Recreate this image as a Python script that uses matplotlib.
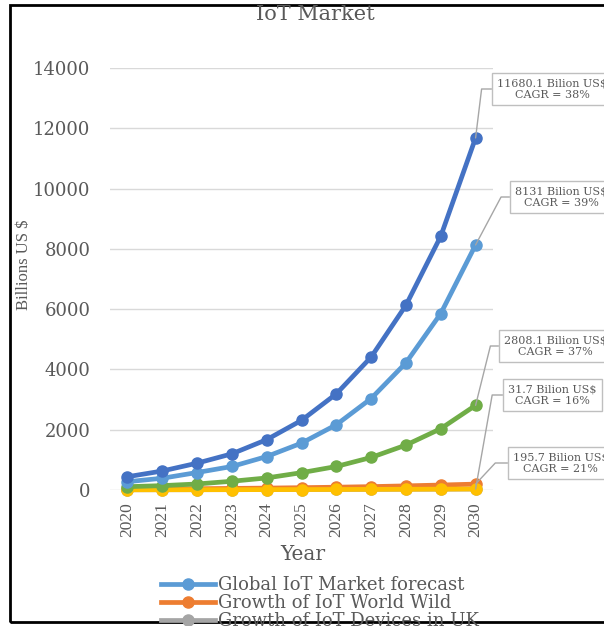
import matplotlib.pyplot as plt
from matplotlib.patches import Rectangle

# values (billions US $)
years = [2020, 2021, 2022, 2023, 2024, 2025, 2026, 2027, 2028, 2029, 2030]
iot_total = [440, 630, 890, 1200, 1670, 2310, 3190, 4410, 6130, 8420, 11680.1]
global_forecast = [275, 390, 580, 780, 1110, 1555, 2165, 3035, 4220, 5855, 8131]
iot_segment = [110, 145, 200, 290, 400, 575, 780, 1080, 1490, 2035, 2808.1]
world_wild = [30, 36, 43, 53, 63, 77, 93, 112, 137, 165, 195.7]
uk_devices = [7, 8, 10, 11, 13, 15, 17, 20, 24, 27, 31.7]
other_small = [6, 8, 9, 11, 13, 15, 18, 21, 24, 28, 33]

callouts = [
    ("11680.1 Bilion US$\nCAGR = 38%", 11680.1, (497, 89), 83),
    ("8131 Bilion US$\nCAGR = 39%", 8131, (515, 197), 62),
    ("2808.1 Bilion US$\nCAGR = 37%", 2808.1, (504, 346), 76),
    ("31.7 Bilion US$\nCAGR = 16%", 31.7, (508, 395), 80),
    ("195.7 Bilion US$\nCAGR = 21%", 195.7, (513, 463), 47),
]

W, H = 604, 626
fig = plt.figure(figsize=(W / 100, H / 100), dpi=100)
ax = fig.add_axes([110 / W, 1 - 490 / H, 383 / W, 422 / H])

txt = "#595959"
grid = "#d9d9d9"
line_kw = dict(lw=3.4, marker="o", ms=8, clip_on=False)

ax.plot(years, uk_devices, color="#A5A5A5", label="Growth of IoT Devices in UK", **line_kw)
ax.plot(years, world_wild, color="#ED7D31", label="Growth of IoT World Wild", **line_kw)
ax.plot(years, other_small, color="#FFC000", **line_kw)
ax.plot(years, iot_segment, color="#70AD47", **line_kw)
ax.plot(years, global_forecast, color="#5B9BD5", label="Global IoT Market forecast", **line_kw)
ax.plot(years, iot_total, color="#4472C4", **line_kw)

ax.set_xlim(2019.5, 2030.5)
ax.set_ylim(0, 14000)
ax.set_yticks(range(0, 14001, 2000))
ax.set_xticks(years)
ax.set_xticklabels([str(y) for y in years], rotation=90,
                   family="Liberation Serif", fontsize=12.5, color=txt)
for t in ax.get_yticklabels():
    t.set_family("DejaVu Serif")
    t.set_fontsize(13)
    t.set_color(txt)
ax.tick_params(length=0)
ax.tick_params(axis="y", pad=14)
ax.tick_params(axis="x", pad=9)
ax.grid(axis="y", color=grid, lw=1)
ax.set_axisbelow(True)
for s in ax.spines.values():
    s.set_visible(False)

for label, val, (px, py), ang in callouts:
    ax.annotate(label, xy=(2030, val), xytext=(px, H - py), textcoords="figure pixels",
                ha="left", va="center", multialignment="center",
                family="DejaVu Serif", fontsize=8, color=txt,
                bbox=dict(boxstyle="square,pad=0.45", fc="white", ec="#bfbfbf", lw=1),
                arrowprops=dict(arrowstyle="-", color="#a6a6a6", lw=1,
                                connectionstyle="angle,angleA=0,angleB=%d,rad=0" % ang,
                                relpos=(0, 0.5), shrinkA=0, shrinkB=0),
                annotation_clip=False)

fig.text(315 / W, 1 - 14 / H, "IoT Market", family="DejaVu Serif", fontsize=15,
         color=txt, ha="center", va="center")
fig.text(24 / W, 1 - 265 / H, "Billions US $", family="Liberation Serif", fontsize=12,
         color=txt, rotation=90, ha="center", va="center")
fig.text(303 / W, 1 - 554 / H, "Year", family="DejaVu Serif", fontsize=14.5,
         color=txt, ha="center", va="center")

h, l = ax.get_legend_handles_labels()
order = [2, 1, 0]
fig.legend([h[i] for i in order], [l[i] for i in order], loc="upper left",
           bbox_to_anchor=(152 / W, 1 - 567 / H), frameon=False,
           prop=dict(family="DejaVu Serif", size=13), labelcolor=txt,
           handlelength=3.0, handletextpad=0.15, labelspacing=0.0, borderpad=0)

fig.add_artist(Rectangle((10 / W, 4 / H), 1.0, 1 - 9 / H, transform=fig.transFigure,
                         fill=False, ec="black", lw=2))

fig.savefig("out.png", dpi=100)
